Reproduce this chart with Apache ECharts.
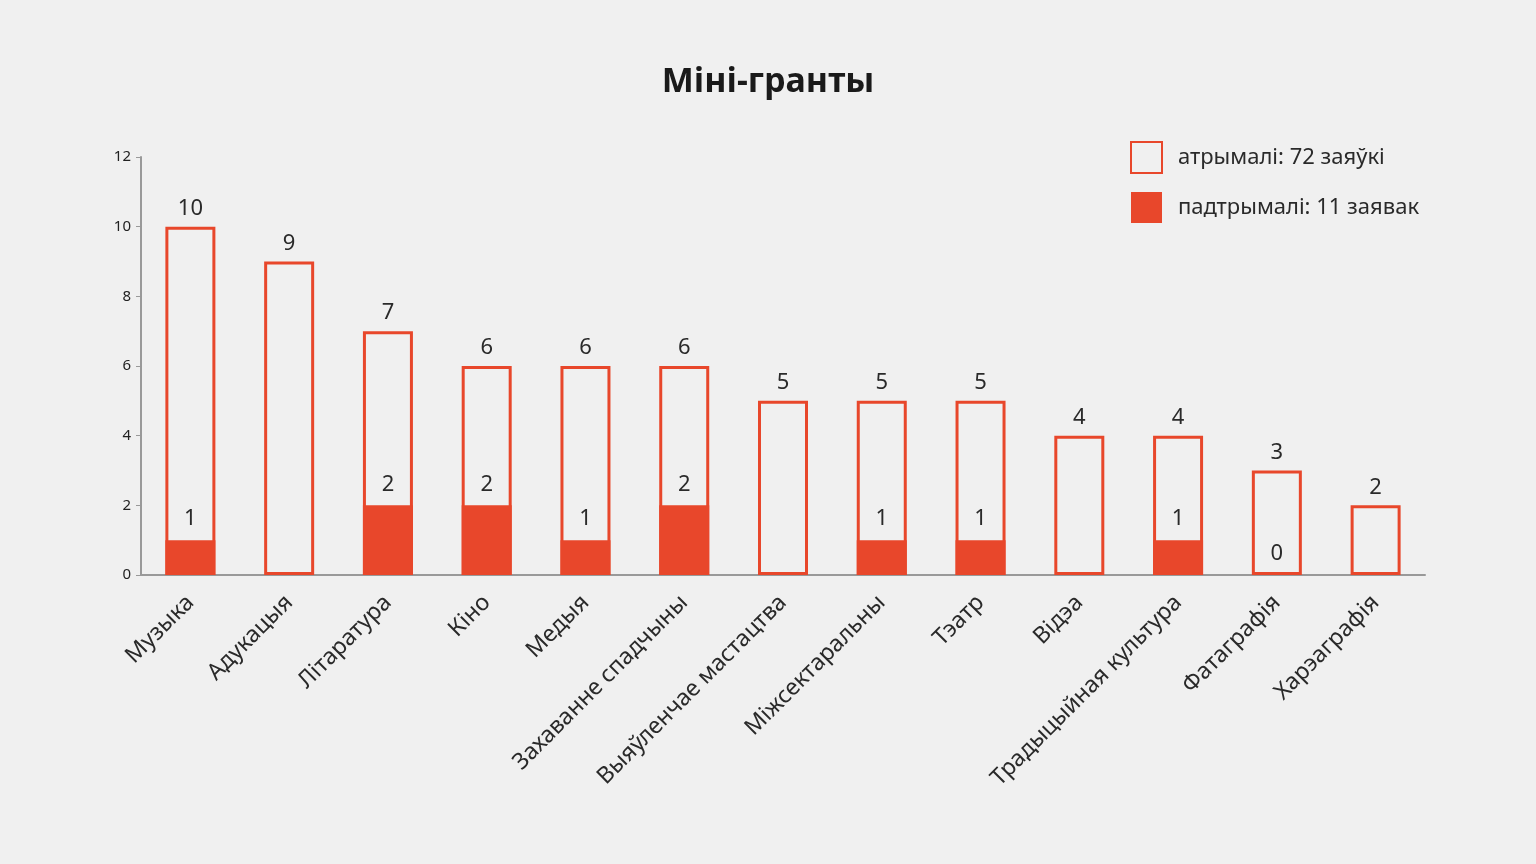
<!DOCTYPE html>
<html><head><meta charset="utf-8">
<script src="https://cdn.jsdelivr.net/npm/echarts@6/dist/echarts.min.js"></script>
<style>html,body{margin:0;padding:0;background:#f0f0f0}#c{width:1536px;height:864px}</style>
</head><body><div id="c"></div>
<script>
const categories = ['Музыка','Адукацыя','Літаратура','Кіно','Медыя','Захаванне спадчыны','Выяўленчае мастацтва','Міжсектаральны','Тэатр','Відэа','Традыцыйная культура','Фатаграфія','Харэаграфія'];
const received = [10,9,7,6,6,6,5,5,5,4,4,3,2];
const supported = [1,null,2,2,1,2,null,1,1,null,1,0,null];
const yTicks = [0,2,4,6,8,10,12];
const RED = '#e8472b';
const FONT = '"Noto Sans", sans-serif';
const chart = echarts.init(document.getElementById('c'));
chart.setOption({
  backgroundColor: '#f0f0f0',
  animation: false,
  title: {text: 'Міні-гранты', left: 'center', top: 60, textStyle: {fontFamily: FONT, fontSize: 34, fontWeight: 'bold', color: '#1a1a1a'}},
  legend: {orient: 'vertical', left: 1125, top: 136, itemWidth: 31, itemHeight: 31, itemGap: 18, icon: 'rect',
    textStyle: {fontFamily: FONT, fontSize: 22, color: '#2a2a2a', padding: [0,0,0,11]},
    data: ['атрымалі: 72 заяўкі', 'падтрымалі: 11 заявак']},
  grid: {left: 141, right: 111, top: 157, bottom: 289},
  xAxis: {type: 'category', data: categories,
    axisLine: {lineStyle: {color: '#999', width: 2}}, axisTick: {show: false},
    axisLabel: {rotate: 45, interval: 0, fontFamily: FONT, fontSize: 23, color: '#2a2a2a', margin: 24}},
  yAxis: {type: 'value', min: 0, max: 12, interval: 2,
    axisLine: {show: true, lineStyle: {color: '#999', width: 2}},
    axisTick: {show: true, length: 5, lineStyle: {color: '#999'}},
    splitLine: {show: false},
    axisLabel: {fontFamily: FONT, fontSize: 15, color: '#222', margin: 10,
      formatter: v => yTicks.includes(v) ? String(v) : ''}},
  series: [
    {name: 'атрымалі: 72 заяўкі', type: 'bar', data: received, barWidth: 50, barGap: '-100%',
      itemStyle: {color: '#f0f0f0', borderColor: RED, borderWidth: 3},
      label: {show: true, position: 'top', distance: 7, fontFamily: FONT, fontSize: 22, color: '#2a2a2a'}},
    {name: 'падтрымалі: 11 заявак', type: 'bar', data: supported, barWidth: 50,
      itemStyle: {color: RED},
      label: {show: true, position: 'top', distance: 10, fontFamily: FONT, fontSize: 22, color: '#2a2a2a'}}
  ]
});
</script></body></html>
